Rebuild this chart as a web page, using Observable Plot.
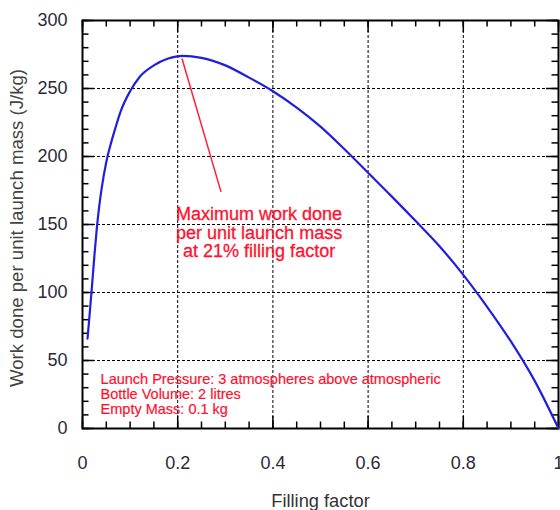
<!DOCTYPE html>
<html>
<head>
<meta charset="utf-8">
<script src="https://cdn.jsdelivr.net/npm/d3@7"></script>
<script src="https://cdn.jsdelivr.net/npm/@observablehq/plot@0.6"></script>
<style>
  html, body { margin: 0; padding: 0; background: #fff; }
  #chart { width: 560px; height: 510px; }
</style>
</head>
<body>
<div id="chart"></div>
<script>
// Data
const fillingFactor = [0.0105, 0.015, 0.02, 0.025, 0.03, 0.035, 0.04, 0.05, 0.06, 0.07, 0.08, 0.10, 0.12, 0.15, 0.18, 0.21, 0.25, 0.30, 0.35, 0.40, 0.45, 0.50, 0.55, 0.60, 0.65, 0.70, 0.75, 0.80, 0.85, 0.90, 0.95, 1.00];
const workPerMass   = [66, 84, 105, 127, 147, 163, 176, 196, 210, 222, 233, 248, 258.5, 267, 272, 274, 272.5, 267, 258, 248, 236, 222, 205.5, 188, 170.5, 152.5, 134, 113, 89.5, 64, 35, 0];
const xMajorTicks = [0, 0.2, 0.4, 0.6, 0.8, 1];
const xMinorTicks = d3.range(0, 1.0001, 0.05).map(v => +v.toFixed(2));
const yMajorTicks = [0, 50, 100, 150, 200, 250, 300];
const yMinorTicks = d3.range(0, 301, 10);
const pointerFrom = {x: 0.209, y: 272};
const pointerTo = {x: 0.291, y: 174};
const noteMax = "Maximum work done\nper unit launch mass\nat 21% filling factor";
const noteMaxPos = {x: 0.371, y: 144};
const noteParams = "Launch Pressure: 3 atmospheres above atmospheric\nBottle Volume: 2 litres\nEmpty Mass: 0.1 kg";
const noteParamsPos = {x: 0.038, y: 25};
const xLabel = "Filling factor";
const yLabel = "Work done per unit launch mass (J/kg)";

const curve = fillingFactor.map((x, i) => ({x, y: workPerMass[i]}));

const W = 560, H = 510, mT = 20, mB = 82, mL = 82, mR = 2;
const fw = W - mL - mR, fh = H - mT - mB;
const font = "'Liberation Sans', Arial, sans-serif";
const gridDash = "3,2";

const chart = Plot.plot({
  width: W, height: H,
  marginTop: mT, marginBottom: mB, marginLeft: mL, marginRight: mR,
  style: {fontFamily: font, background: "#fff", overflow: "visible"},
  x: {domain: [0, 1]},
  y: {domain: [0, 300]},
  marks: [
    // grid
    Plot.ruleX(xMajorTicks.filter(d => d > 0 && d < 1), {x: d => d, stroke: "#000", strokeWidth: 1, strokeDasharray: gridDash}),
    Plot.ruleY(yMajorTicks.filter(d => d > 0 && d < 300), {y: d => d, stroke: "#000", strokeWidth: 1, strokeDasharray: gridDash}),
    // minor ticks (inward) on all four sides
    Plot.ruleX(xMinorTicks, {x: d => d, insetTop: fh - 6.5, stroke: "#000", strokeWidth: 1.5}),
    Plot.ruleX(xMinorTicks, {x: d => d, insetBottom: fh - 6.5, stroke: "#000", strokeWidth: 1.5}),
    Plot.ruleY(yMinorTicks, {y: d => d, insetRight: fw - 6.5, stroke: "#000", strokeWidth: 1.5}),
    Plot.ruleY(yMinorTicks, {y: d => d, insetLeft: fw - 6.5, stroke: "#000", strokeWidth: 1.5}),
    // major ticks (inward)
    Plot.ruleX(xMajorTicks, {x: d => d, insetTop: fh - 12, stroke: "#000", strokeWidth: 1.5}),
    Plot.ruleX(xMajorTicks, {x: d => d, insetBottom: fh - 12, stroke: "#000", strokeWidth: 1.5}),
    Plot.ruleY(yMajorTicks, {y: d => d, insetRight: fw - 12, stroke: "#000", strokeWidth: 1.5}),
    Plot.ruleY(yMajorTicks, {y: d => d, insetLeft: fw - 12, stroke: "#000", strokeWidth: 1.5}),
    // axes (labels only)
    Plot.axisX(xMajorTicks, {tickSize: 0, tickPadding: 27.5, fontSize: 18, color: "#2a2a3a", label: null, tickFormat: d => String(d)}),
    Plot.axisY(yMajorTicks, {tickSize: 0, tickPadding: 15, fontSize: 18, color: "#2a2a3a", label: null}),
    // frame
    Plot.frame({stroke: "#000", strokeWidth: 2}),
    // curve
    Plot.line(curve, {x: "x", y: "y", stroke: "#1f1fdc", strokeWidth: 2.2, curve: "monotone-x"}),
    // pointer line
    Plot.link([{}], {x1: () => pointerFrom.x, y1: () => pointerFrom.y, x2: () => pointerTo.x, y2: () => pointerTo.y, stroke: "#ff2030", strokeWidth: 1.5}),
    // annotations
    Plot.text([noteMax], {x: () => noteMaxPos.x, y: () => noteMaxPos.y, text: d => d, fill: "#ff1030", fontSize: 18, lineHeight: 1.04, textAnchor: "middle", lineAnchor: "middle", stroke: "#ff1030", strokeWidth: 0.3}),
    Plot.text([noteParams], {x: () => noteParamsPos.x, y: () => noteParamsPos.y, text: d => d, fill: "#ff1030", fontSize: 14.5, lineHeight: 1.02, textAnchor: "start", lineAnchor: "middle", stroke: "#ff1030", strokeWidth: 0.2}),
    // axis titles
    Plot.text([xLabel], {frameAnchor: "bottom", text: d => d, dy: 73, fontSize: 18.3, fill: "#333", textAnchor: "middle", lineAnchor: "middle"}),
    Plot.text([yLabel], {frameAnchor: "left", text: d => d, dx: -65, dy: 3.5, rotate: -90, fontSize: 18.6, fill: "#444", textAnchor: "middle", lineAnchor: "middle"})
  ]
});
document.getElementById("chart").appendChild(chart);
</script>
</body>
</html>
